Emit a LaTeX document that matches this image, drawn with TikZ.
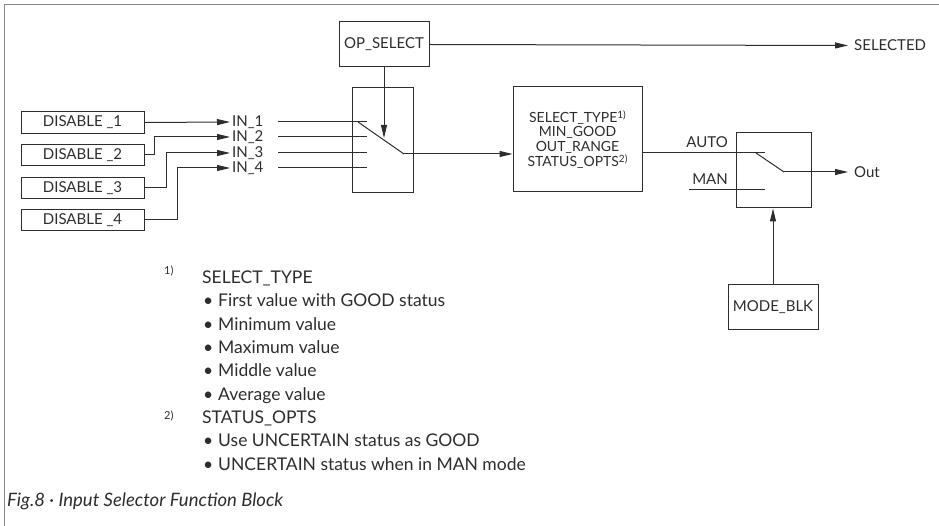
\documentclass[tikz,border=0pt]{standalone}
\usepackage{fontspec}
\setmainfont{Lato}
\usetikzlibrary{arrows.meta}
\definecolor{ink}{RGB}{45,45,45}
\definecolor{framec}{RGB}{135,135,135}
\newcommand{\supmark}[1]{\raisebox{3.5pt}{\fontsize{10}{10}\selectfont #1}}
\begin{document}
\begin{tikzpicture}[x=1pt,y=-1pt,
  box/.style={draw=ink, line width=1pt, inner sep=0pt, text=ink, font=\fontsize{15}{17}\selectfont},
  lbl/.style={inner sep=1pt, text=ink, font=\fontsize{15}{17}\selectfont},
  lblr/.style={inner sep=0pt, inner xsep=6pt, text=ink, font=\fontsize{15}{17}\selectfont},
  lbli/.style={inner sep=0pt, inner xsep=2pt, text=ink, font=\fontsize{15}{17}\selectfont},
  arr/.style={-{Triangle[length=13pt,width=6pt]}},
  wire/.style={draw=ink, line width=1pt},
  fn/.style={anchor=base west, inner sep=0pt, text=ink, font=\fontsize{17.5}{20}\selectfont},
  fnmark/.style={anchor=base west, inner sep=0pt, text=ink, font=\fontsize{11}{12}\selectfont},
  bul/.style={fn, xshift=1pt}]
\useasboundingbox (0,0) rectangle (939,526);
% frame
\draw[framec, line width=1.5pt] (4.5,526) -- (4.5,4.5) -- (939,4.5);

% blocks
\node[box, minimum width=90pt, minimum height=45pt] (opsel) at (384,44.5) {OP\_SELECT};
\node[box, minimum width=61pt, minimum height=105pt] (sw1) at (382.5,140.5) {};
\node[box, minimum width=129pt, minimum height=105pt, align=center, font=\fontsize{14}{14.7}\selectfont] (sel) at (577.5,139.5)
  {SELECT\_TYPE\supmark{1)}\\MIN\_GOOD\\OUT\_RANGE\\STATUS\_OPTS\supmark{2)}};
\node[box, minimum width=75pt, minimum height=75pt] (sw2) at (773.5,170.5) {};
\node[box, minimum width=90pt, minimum height=45pt] (mode) at (773,307.5) {MODE\_BLK};

\node[box, minimum width=123pt, minimum height=21.5pt] (d1) at (82.5,122.5) {DISABLE \_1};
\node[box, minimum width=123pt, minimum height=21.5pt] (d2) at (82.5,155) {DISABLE \_2};
\node[box, minimum width=123pt, minimum height=21.5pt] (d3) at (82.5,188) {DISABLE \_3};
\node[box, minimum width=123pt, minimum height=21.5pt] (d4) at (82.5,220) {DISABLE \_4};

% IN labels
\node[lbli, anchor=west] (in1) at (230,122) {IN\_1};
\node[lbli, anchor=west] (in2) at (230,137) {IN\_2};
\node[lbli, anchor=west] (in3) at (230,153) {IN\_3};
\node[lbli, anchor=west] (in4) at (230,168) {IN\_4};

\draw[wire,arr] (d1.east) -- (in1.west);
\draw[wire,arr] (d2.east) -- ++(10,0) |- (in2.west);
\draw[wire,arr] (d3.east) -- ++(22,0) |- (in3.west);
\draw[wire,arr] (d4.east) -- ++(33,0) |- (in4.west);

% selector switch 1
\draw[wire] (278,122) -- (367,122);
\draw[wire] (278,137) -- (367,137);
\draw[wire] (278,153) -- (367,153);
\draw[wire] (278,168) -- (367,168);
\draw[wire] (358,122) -- (404,154);
\coordinate (s1out) at (404,154);
\coordinate (s1tip) at (384,138);
\draw[wire,arr] (opsel.south) -- (s1tip);
\draw[wire,arr] (s1out) -- (s1out -| sel.west);

% selected output
\node[lblr, anchor=west] (selected) at (848,45.5) {SELECTED};
\draw[wire,arr] (opsel.east) -- (selected.west);

% mode switch
\coordinate (autoend) at (765,153);
\draw[wire] (autoend -| sel.east) -- (autoend);
\node[lbl, anchor=base east] (auto) at (729,148) {AUTO};
\draw[wire] (689,190) -- (765,190);
\node[lbl, anchor=base east] (man) at (729,185) {MAN};
\draw[wire] (756,153) -- (784,172);
\coordinate (s2out) at (784,172);
\node[lblr, anchor=west] (out) at (848,172) {Out};
\draw[wire,arr] (s2out) -- (out.west);
\draw[wire,arr] (mode.north) -- (mode.north |- sw2.south);

% footnotes
\node[fnmark] (m1) at (164,275) {1)};
\node[fn] (f0) at (202,284) {SELECT\_TYPE};
\node[bul] (f1) at (202,307) {\makebox[15pt][l]{\textbullet}First value with GOOD status};
\node[bul] (f2) at (202,330.3) {\makebox[15pt][l]{\textbullet}Minimum value};
\node[bul] (f3) at (202,353.6) {\makebox[15pt][l]{\textbullet}Maximum value};
\node[bul] (f4) at (202,376.9) {\makebox[15pt][l]{\textbullet}Middle value};
\node[bul] (f5) at (202,400.2) {\makebox[15pt][l]{\textbullet}Average value};
\node[fnmark] (m2) at (164,419) {2)};
\node[fn] (g0) at (202,423.5) {STATUS\_OPTS};
\node[bul] (g1) at (202,446.8) {\makebox[15pt][l]{\textbullet}Use UNCERTAIN status as GOOD};
\node[bul] (g2) at (202,470.1) {\makebox[15pt][l]{\textbullet}UNCERTAIN status when in MAN mode};

% caption
\node[anchor=base west, inner sep=0pt, text=ink, font=\fontsize{18.5}{20}\selectfont\itshape] (cap) at (7,506) {Fig.8 · Input Selector Function Block};
\end{tikzpicture}
\end{document}
